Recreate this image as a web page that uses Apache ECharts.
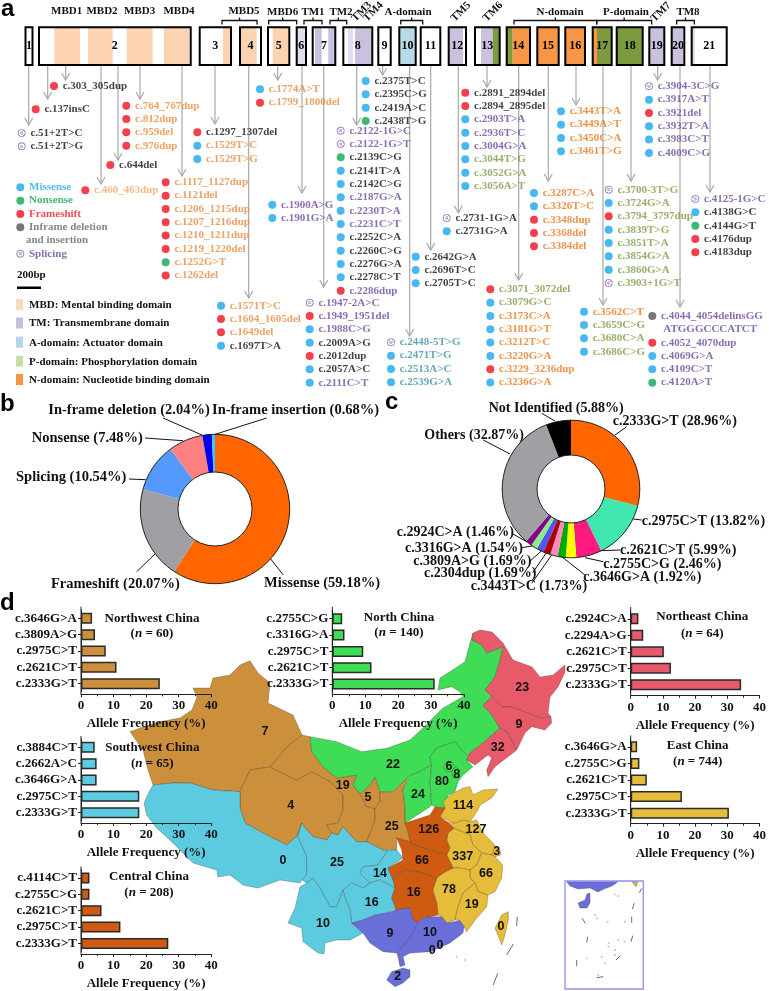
<!DOCTYPE html>
<html><head><meta charset="utf-8">
<style>html,body{margin:0;padding:0;background:#fff}#c{width:769px;height:991px}</style>
<script src="https://cdn.jsdelivr.net/npm/echarts@6/dist/echarts.min.js"></script>
</head><body><div id="c"></div>
<script>
// ---------- DATA ----------
// variant rows: [name, mutation type, text colour key]
const varsC303 = [['c.303_305dup','F','k']];
const varsC137 = [['c.137insC','F','k']];
const varsC51 = [['c.51+2T>C','S','k'],['c.51+2T>G','S','k']];
const varsC764 = [['c.764_767dup','F','m'],['c.812dup','F','m'],['c.959del','F','m'],['c.976dup','F','m']];
const varsC644 = [['c.644del','F','k']];
const varsC460 = [['c.460_463dup','F','l']];
const varsC1297 = [['c.1297_1307del','F','k'],['c.1529T>C','M','m'],['c.1529T>G','M','m']];
const varsC1117 = [['c.1117_1127dup','F','m'],['c.1121del','F','m'],['c.1206_1215dup','F','m'],['c.1207_1216dup','F','m'],['c.1210_1211dup','F','m'],['c.1219_1220del','F','m'],['c.1252G>T','N','m'],['c.1262del','F','m']];
const varsC1571 = [['c.1571T>C','M','m'],['c.1604_1605del','F','m'],['c.1649del','F','m'],['c.1697T>A','M','k']];
const varsC1774 = [['c.1774A>T','M','m'],['c.1799_1800del','F','m']];
const varsC1900 = [['c.1900A>G','M','p'],['c.1901G>A','M','p']];
const varsC1947 = [['c.1947-2A>C','S','p'],['c.1949_1951del','F','p'],['c.1988C>G','M','p'],['c.2009A>G','M','k'],['c.2012dup','F','k'],['c.2057A>C','M','k'],['c.2111C>T','M','p']];
const varsC2375 = [['c.2375T>C','M','k'],['c.2395C>G','M','k'],['c.2419A>C','M','k'],['c.2438T>G','N','k']];
const varsC2122 = [['c.2122-1G>C','S','p'],['c.2122-1G>T','S','p'],['c.2139C>G','N','k'],['c.2141T>A','M','k'],['c.2142C>G','M','k'],['c.2187G>A','M','p'],['c.2230T>A','M','p'],['c.2231C>T','M','p'],['c.2252C>A','M','k'],['c.2260C>G','M','k'],['c.2276G>A','M','k'],['c.2278C>T','M','k'],['c.2286dup','F','p']];
const varsC2448 = [['c.2448-5T>G','S','t'],['c.2471T>G','M','t'],['c.2513A>C','M','t'],['c.2539G>A','M','t']];
const varsC2642 = [['c.2642G>A','M','k'],['c.2696T>C','M','k'],['c.2705T>C','M','k']];
const varsC2731 = [['c.2731-1G>A','S','k'],['c.2731G>A','M','k']];
const varsC2891 = [['c.2891_2894del','F','k'],['c.2894_2895del','F','k'],['c.2903T>A','M','p'],['c.2936T>C','M','p'],['c.3004G>A','M','p'],['c.3044T>G','M','g'],['c.3052G>A','M','g'],['c.3056A>T','M','g']];
const varsC3071 = [['c.3071_3072del','F','g'],['c.3079G>C','M','g'],['c.3173C>A','M','o'],['c.3181G>T','M','o'],['c.3212T>C','M','o'],['c.3220G>A','M','o'],['c.3229_3236dup','F','o'],['c.3236G>A','M','o']];
const varsC3287 = [['c.3287C>A','M','o'],['c.3326T>C','M','o'],['c.3348dup','F','o'],['c.3368del','F','o'],['c.3384del','F','o']];
const varsC3443 = [['c.3443T>A','M','o'],['c.3449A>T','M','o'],['c.3450C>A','M','o'],['c.3461T>G','M','o']];
const varsC3562 = [['c.3562C>T','M','o'],['c.3659C>G','M','g'],['c.3680C>A','M','g'],['c.3686C>G','M','g']];
const varsC3700 = [['c.3700-3T>G','S','g'],['c.3724G>A','M','g'],['c.3794_3797dup','F','g'],['c.3839T>G','M','g'],['c.3851T>A','M','g'],['c.3854G>A','M','g'],['c.3860G>A','M','g'],['c.3903+1G>T','S','g']];
const varsC3904 = [['c.3904-3C>G','S','p'],['c.3917A>T','M','p'],['c.3921del','F','p'],['c.3932T>A','M','p'],['c.3983C>T','M','p'],['c.4009C>G','M','p']];
const varsC4125 = [['c.4125-1G>C','S','p'],['c.4138G>C','M','k'],['c.4144G>T','N','k'],['c.4176dup','F','k'],['c.4183dup','F','k']];
const varsC4044 = [['c.4044_4054delinsGG','D','p'],['ATGGGCCCATCT','X','p'],['c.4052_4070dup','F','p'],['c.4069G>A','M','p'],['c.4109C>T','M','p'],['c.4120A>T','N','p']];
const legendTypes = [['Missense','M','lb'],['Nonsense','N','lg'],['Frameshift','F','lr'],['Inframe deletion','D','ld']];
const legendSplicing = [['Splicing','S','p']];
const legendCont = [['and insertion','X','ld']];
const domainLegend = ['MBD: Mental binding domain','TM: Transmembrane domain','A-domain: Actuator domain','P-domain: Phosphorylation domain','N-domain: Nucleotide binding domain'];
const exonLabels = ['1','2','3','4','5','6','7','8','9','10','11','12','13','14','15','16','17','18','19','20','21'];
// panel b
const mutationTypes = ['Missense','Frameshift','Splicing','Nonsense','In-frame deletion','In-frame insertion'];
const mutationShares = [59.18,20.07,10.54,7.48,2.04,0.68];
// panel c
const variantNames = ['c.2333G>T','c.2975C>T','c.2621C>T','c.2755C>G','c.3646G>A','c.3443T>C','c.2304dup','c.3809A>G','c.3316G>A','c.2924C>A','Others','Not Identified'];
const variantShares = [28.96,13.82,5.99,2.46,1.92,1.73,1.69,1.69,1.54,1.46,32.87,5.88];
// panel d
const nwLabels = ['c.3646G>A','c.3809A>G','c.2975C>T','c.2621C>T','c.2333G>T'];
const nwValues = [3.4,4.3,7.6,10.9,24.2];
const nLabels = ['c.2755C>G','c.3316G>A','c.2975C>T','c.2621C>T','c.2333G>T'];
const nValues = [3.0,3.7,9.4,11.9,31.1];
const neLabels = ['c.2924C>A','c.2294A>G','c.2621C>T','c.2975C>T','c.2333G>T'];
const neValues = [2.4,3.9,10.3,12.5,34.3];
const swLabels = ['c.3884C>T','c.2662A>C','c.3646G>A','c.2975C>T','c.2333G>T'];
const swValues = [4.2,4.8,4.8,17.9,17.9];
const eLabels = ['c.3646G>A','c.2755C>G','c.2621C>T','c.2975C>T','c.2333G>T'];
const eValues = [2.0,2.7,5.0,15.9,30.5];
const cLabels = ['c.4114C>T','c.2755C>G','c.2621C>T','c.2975C>T','c.2333G>T'];
const cValues = [2.6,2.6,6.3,12.1,26.8];
const provinceNames = ['Xinjiang','Qinghai','Gansu','Ningxia','Shaanxi','Tibet','Sichuan','Chongqing','Guizhou','Yunnan','InnerMongolia','Shanxi','Hebei','Beijing','Tianjin','Heilongjiang','Jilin','Liaoning','Shandong','Jiangsu','Shanghai','Anhui','Zhejiang','Jiangxi','Fujian','Taiwan','Henan','Hubei','Hunan','Guangxi','Guangdong','Hainan','HongKong','Macau'];
const provinceCounts = [7,4,19,5,25,0,25,14,16,10,22,24,80,6,8,23,9,32,114,127,3,337,66,78,19,0,126,66,16,9,10,2,0,0];
const provinceGroups = ['nw','nw','nw','nw','nw','sw','sw','sw','sw','sw','n','n','n','n','n','ne','ne','ne','e','e','e','e','e','e','e','e','c','c','c','s','s','s','s','s'];

// ---------- LAYOUT AND STYLE ----------
const SERIF='"Liberation Serif"', SANS='"Liberation Sans"';
const serifBold=s=>({fontFamily:SERIF,fontWeight:'bold',fontSize:s});
const regionColor={nw:'#cc8f3c',n:'#3fdc55',ne:'#e75a6a',sw:'#5ccbdf',e:'#e6bd3a',c:'#cf5a12',s:'#6a6ed8'};
const dotColor={M:'#1aa7ec',N:'#0fa651',F:'#f01020',D:'#555555'};
const spliceFill={type:'radial',x:.5,y:.5,r:.5,colorStops:[{offset:0,color:'#bba8d8'},{offset:.42,color:'#bba8d8'},{offset:.46,color:'#fff'},{offset:.7,color:'#fff'},{offset:.74,color:'#9278c2'},{offset:1,color:'#9278c2'}]};
const textColor={k:'#111',m:'#e98a3f',l:'#f0a868',p:'#6b4a9e',t:'#3f90a6',g:'#7d9a46',o:'#e8771e',lb:'#29abe2',lg:'#0fa651',lr:'#ee1c25',ld:'#666'};
const placements=[[varsC303,54,86],[varsC137,35.7,109.3],[varsC51,21.7,133],[varsC764,126.3,105.7],[varsC644,110.3,165],[varsC460,85.3,190.3],[varsC1297,197.3,132.3],[varsC1117,165.7,182.3],[varsC1571,221,305.7],[varsC1774,260,89.3],[varsC1900,272.3,204.7],[varsC1947,309.7,302.7],[varsC2375,365.7,81],[varsC2122,340.7,130.7],[varsC2448,391,342.3],[varsC2642,415.7,256.7],[varsC2731,446.7,218],[varsC2891,465.3,92.7],[varsC3071,490.3,289.3],[varsC3287,534,193],[varsC3443,561,111.3],[varsC3562,584,311.7],[varsC3700,608.7,189.7],[varsC3904,649,86.3],[varsC4125,695.3,199],[varsC4044,652.3,316],[legendTypes,20.3,187.3],[legendCont,15,240.3],[legendSplicing,20.3,253.7]];
const arrows=[[28.7,125],[47.7,99],[65.7,80],[101,184],[118,160],[140,99],[182,176],[215,124],[248.7,298],[277.7,80],[302,193],[323.7,287],[356.7,125],[382.7,75],[409.7,336],[430.7,250],[458.3,212.7],[487,87],[518.7,280],[548.3,181],[576,105],[603,305],[631,181],[657.7,80],[680,307],[710,192]];
const exonBoxes=[[25.5,32.5],[39,190.7],[199.7,231],[240,261],[268,289.3],[296.7,306],[312.7,335.3],[343.3,372.3],[378.3,390.7],[399.3,415.7],[420.7,440.3],[448.7,466],[475,499.7],[506.7,530],[537.3,558.7],[565.3,585],[592.7,611.7],[616.7,642.7],[649.3,664.3],[671.7,684.3],[691.7,726.7]];
const PE='#fbd3b0',LI='#c9c1de',LL='#e2ddee',AD='#b5dbe8',GR='#7e9a3e',OR='#f79646';
const domainFills=[[54.3,80,PE],[88,112.7,PE],[126.7,152.7,PE],[164,189,PE],[223,231,PE],[240.7,256.7,PE],[272.7,288.3,PE],[297,305,LL],[315,321.7,LI],[328.3,335,LI],[348,353,LL],[355,363,LI],[363,372,LI],[399.3,415.7,AD],[448.7,463,LI],[481,492.7,LI],[492.7,499.7,GR],[506.7,512.7,GR],[512.7,530,OR],[537.3,558.7,OR],[565.3,585,OR],[592.7,597,OR],[597,611.7,GR],[616.7,642.7,GR],[649.3,664.3,LI],[671.7,683,LI],[691.7,695,LL]];
const brackets=[[222,257],[268.7,296.7],[304,322],[330,346.7],[400.7,422.7],[514,596.7],[596.7,651.7],[676.7,694.3]];
const headers=[['MBD1',66.7,11],['MBD2',102,11],['MBD3',139.7,11],['MBD4',179,11],['MBD5',244,11],['MBD6',282.7,12],['TM1',313,12],['TM2',341,12],['A-domain',408,12],['N-domain',560,12],['P-domain',626,12],['TM8',688,12]];
const slanted=[['TM3',361.7,11.7],['TM4',373.3,11.7],['TM5',461,11.7],['TM6',493,11.7],['TM7',661,12]];
const bLabelPos=[[264,583],[51,584],[16,477],[31.7,438],[48.3,410],[212,410]];
const bLeaderEnds=[[[283.3,575],[270.7,559]],[[136.7,571.7],[155,554]],[[129,479],[145.7,479.7]],[[145,438],[183,440.7]],[[163,418],[202,435]],[[266.7,418],[213,435]]];
const cLabelPos=[[612.7,421.7],[641.7,521],[620,550],[603.3,564],[583.3,577.3],[470.7,586.7],[424,573.3],[413.3,561],[405,548.3],[396.7,532.7],[424.3,435],[488.7,408.3]];
const cLeaderEnds=[[[626.7,426.7],[615,435]],[[641.7,520],[633.3,519]],[[620,550],[600,550.7]],[[603.3,561.7],[585,557.7]],[[585,575],[561.7,556.7]],[[531.7,583.3],[551.7,555]],[[532.7,572.7],[546,553.3]],[[529.3,561.7],[541.7,550.7]],[[521.7,547.7],[534,545.7]],[[511.7,533.3],[526.7,541.7]],[[483.3,440],[510,454]],[[541.7,413.3],[555,421]]];
const bColors=['#ff6600','#a0a0a4','#5599ff','#ff8080','#0000ee','#33ccff'];
const cColors=['#ff6600','#40e8b0','#ff1a80','#ffff00','#00aa00','#ff88bb','#aa0000','#5555ee','#88ee88','#880088','#a0a0a4','#000000'];
const barPanels=[
 {lab:nwLabels,val:nwValues,col:'nw',left:81,right:211.3,top:610.1,band:16.35,axisY:694.3,yTop:606.7,title:'Northwest China',nText:'60',tx:152,ty:618.3,ny:633.7},
 {lab:nLabels,val:nValues,col:'n',left:332.3,right:464,top:610.5,band:16.35,axisY:694.3,yTop:606.7,title:'North China',nText:'140',tx:399,ty:617.3,ny:633},
 {lab:neLabels,val:neValues,col:'ne',left:630.7,right:763,top:610.5,band:16.5,axisY:695.7,yTop:607,title:'Northeast China',nText:'64',tx:702.3,ty:616.7,ny:633.3},
 {lab:swLabels,val:swValues,col:'sw',left:81,right:211.3,top:739.1,band:16.35,axisY:823,yTop:736,title:'Southwest China',nText:'65',tx:152.3,ty:747.7,ny:763.3},
 {lab:eLabels,val:eValues,col:'e',left:630.7,right:763,top:738.5,band:16.6,axisY:823.7,yTop:735.5,title:'East China',nText:'744',tx:697.7,ty:745.3,ny:761.7},
 {lab:cLabels,val:cValues,col:'c',left:81,right:211.3,top:869.8,band:16.35,axisY:954,yTop:866.5,title:'Central China',nText:'208',tx:149,ty:877,ny:893}];
const outlines={
Xinjiang:[[130,731.7],[143,727],[160,721.7],[180,718],[192,710],[197,697],[193,688],[210,688],[213,678],[230,675],[240,665],[250,660.7],[258,673],[270,683],[268,703],[293,715],[302,735],[287,747],[270,767],[250,770],[240,791.7],[213,790],[190,783],[173,783],[153,785],[148,770],[143,750]],
Qinghai:[[250,770],[270,767],[296.7,780],[311.7,771.7],[330,781.7],[343,795],[343,810],[338,823],[326.7,825],[333,833],[326.7,840],[313,836.7],[306.7,830],[301.7,823],[296.7,836.7],[286.7,845],[263,833],[245,823],[240,808],[240,791.7]],
Gansu:[[302,735],[310,736.7],[311.7,751.7],[323,766.7],[336.7,778],[356.7,775],[353,785],[360,794],[366.7,806.7],[375,808.3],[375,820],[370,833],[366.7,841.7],[356.7,841.7],[351.7,836.7],[343,826.7],[338,835],[331.7,833],[326.7,825],[338,823],[343,810],[343,795],[330,781.7],[311.7,771.7],[296.7,780],[270,767],[287,747]],
Ningxia:[[375,776.7],[370,785],[360,794],[366.7,806.7],[375,808.3],[380,801.7],[380,791.7]],
Shaanxi:[[409,775],[403,790],[405,808],[405,823],[408,831.7],[410,841.7],[396.7,838],[396.7,850],[388,849.3],[383,850],[366.7,841.7],[370,833],[375,820],[375,808.3],[380,801.7],[380,791.7],[393,791.7],[400,785]],
Tibet:[[153,785],[173,783],[190,783],[213,790],[240,791.7],[240,808],[245,823],[263,833],[286.7,845],[296.7,836.7],[301.7,823],[298,836.7],[306.7,856.7],[306.7,875],[301.7,880],[300,883],[280,880],[258,888],[243,885],[230,875],[218,877],[216.7,870],[193,863],[173,843],[156.7,828],[146.7,815],[144,803],[150,790]],
Sichuan:[[301.7,823],[306.7,830],[313,836.7],[326.7,840],[331.7,833],[338,835],[343,826.7],[351.7,836.7],[356.7,841.7],[366.7,841.7],[383,850],[388.3,850],[378,865],[363,866.7],[360,873],[370,883],[363,888],[351.7,883],[343,890],[336.7,906.7],[330,906.7],[320,888],[313,878],[306.7,883],[301.7,880],[306.7,875],[306.7,856.7],[298,836.7]],
Chongqing:[[388,850],[396.7,850],[403,858],[388,868],[393,880],[395,888],[380,880],[370,883],[360,873],[363,867],[378,865]],
Guizhou:[[351.7,883],[363,888],[370,883],[380,880],[395,888],[391.7,898],[395.7,908],[386.7,913],[375,915],[363,920],[351.7,923],[350,910],[345,898],[343,890]],
Yunnan:[[306.7,883],[313,878],[320,888],[330,906.7],[336.7,906.7],[343,890],[345,898],[350,910],[351.7,923],[363,933],[350,940],[336.7,940],[325,943],[324,954],[318,953],[303,941.7],[301.7,928],[288,923],[295,908],[300,886.7]],
InnerMongolia:[[310,736.7],[336.7,741.7],[361.7,751.7],[386.7,748.3],[410,740],[423,728],[443,708],[463,696.7],[460,691.7],[451.7,686.7],[438,690],[440,678],[450,671.7],[465,661.7],[470,643],[473,633],[472,640],[482,645],[486.7,653],[503,646.7],[500,660],[495,676.7],[485,690],[491.7,696.7],[483,705],[491.7,715],[500,728],[483,743],[470,753],[468.3,756.7],[463,751.7],[455,741.7],[436.7,748],[430,756.7],[431.7,765],[416.7,773],[410,775],[400,785],[393,791.7],[380,791.7],[375,776.7],[370,785],[360,794],[353,785],[356.7,775],[336.7,778],[323,766.7],[311.7,751.7]],
Shanxi:[[416.7,773],[431.7,765],[430,781.7],[431.7,805],[430,806.7],[405,823],[405,808],[403,790],[410,775]],
Hebei:[[431.7,765],[430,756.7],[436.7,748],[455,741.7],[463,751.7],[468.3,756.7],[466.7,760],[473,766.7],[463,775],[458,781.7],[455,791.7],[448,795],[445,805],[445,808],[435,807],[431.7,805],[430,781.7]],
Beijing:[[443,766.7],[446.7,761.7],[451.7,761.7],[455,766.7],[451.7,771.7],[446.7,771.7]],
Tianjin:[[451.7,771.7],[455,766.7],[460,770],[458,778],[453,778]],
Heilongjiang:[[473,633],[480,630],[492,632],[503,643],[513,660],[532,667],[540,677],[553,675],[565,665],[565,672],[558,687],[550,697],[548,713],[551,717],[540,718],[528,713],[512,707],[502,707],[491.7,696.7],[485,690],[495,676.7],[500,660],[503,646.7],[486.7,653],[482,645],[472,640]],
Jilin:[[491.7,696.7],[502,707],[512,707],[528,713],[540,718],[551,717],[551.7,723],[545,730],[531.7,726.7],[525,733],[516.7,750],[506.7,731.7],[500,728],[491.7,715],[483,705]],
Liaoning:[[500,728],[506.7,731.7],[516.7,750],[495,766.7],[488,776.7],[486.7,770],[491.7,758],[488,755],[475,765],[466.7,760],[470,753],[483,743]],
Shandong:[[443,801.7],[450,795],[463,788],[470,786.7],[473,795],[483,790],[498,789],[491.7,798],[480,805],[478,810],[470,821.7],[463,820],[455,823.3],[446.7,820],[440,816.7],[445,808]],
Jiangsu:[[463,820],[470,821.7],[476.7,820],[483,833],[493,843],[500,853],[491.7,855],[481.7,853],[473,845],[470,835],[458,830],[454,828],[446.7,821.7],[455,823.3]],
Shanghai:[[495,846.7],[500,850],[500.7,855],[495,856.7],[491.7,855]],
Anhui:[[454,828],[458,830],[470,835],[473,845],[481.7,853],[476.7,865],[470,870],[460,868],[453,868],[446.7,855],[450,848],[446.7,840],[448,833]],
Zhejiang:[[481.7,853],[491.7,855],[495,856.7],[502.7,865],[501.7,878],[495,891.7],[488,895],[478.3,891.7],[475,883],[470,878],[470,870],[476.7,865]],
Jiangxi:[[453,868],[460,868],[470,870],[470,878],[475,883],[463,893],[458,906.7],[455,920],[446.7,923],[441.7,916.7],[438,915],[436.7,903],[432.7,890],[436.7,878],[443,873]],
Fujian:[[475,883],[478.3,891.7],[488,895],[486.7,906.7],[476.7,918],[466.7,931.7],[464,926.7],[460,920.7],[455,920],[458,906.7],[463,893]],
Taiwan:[[508.3,911.7],[501.7,915],[495,928.3],[500,940],[501.7,945],[505,935],[508.3,920]],
Henan:[[405,823],[430,815],[435,807],[445,808],[440,816.7],[446.7,821.7],[454,828],[448,833],[446.7,840],[450,848],[446.7,855],[418,846.7],[410,841.7],[408,831.7]],
Hubei:[[388,868],[403,860],[401.7,850],[396.7,838],[410,841.7],[418,846.7],[446.7,855],[453,868],[443,873],[436.7,878],[423,873],[405,870],[393,880]],
Hunan:[[395.7,908],[391.7,898],[395,888],[393,880],[405,870],[423,873],[436.7,878],[432.7,890],[436.7,903],[438,915],[430,916.7],[423,918],[418,922.7],[413,920],[410,908],[395,910]],
Guangxi:[[351.7,923],[363,920],[375,915],[386.7,913],[395,910],[410,908],[413,920],[418,922.7],[413,933],[403,946.7],[396.7,953],[383,951.7],[370,943],[363,933]],
Guangdong:[[418,922.7],[423,918],[430,916.7],[441.7,916.7],[446.7,923],[460,920.7],[464,926.7],[463,933],[450,943],[430,951.7],[410,953],[403,956.7],[405,965],[400,966.7],[398,956.7],[396.7,953],[403,946.7],[413,933]],
Hainan:[[410,970],[403,968],[391.7,971.7],[386.7,980],[395,986.7],[403,983],[410,976.7]],
HongKong:[[440,944],[442,945],[441,947]],
Macau:[[432,949],[434,950],[433,952]],
InsetMainland:[[566.7,881.7],[618,881.7],[612,886],[604,889],[598,892],[590,888],[578,889],[570,886]],
InsetHainan:[[585,900],[578,903],[580,908],[587,908],[590,903],[590,893],[587,894]],
InsetTaiwan:[[632,881.7],[638,881.7],[636,887]]};
const labelAnchors={Xinjiang:[265,731.7],Qinghai:[290.7,806],Gansu:[342.7,786],Ningxia:[368,798],Shaanxi:[391.7,827],Tibet:[283,860.7],Sichuan:[337,862.7],Chongqing:[380,874],Guizhou:[371.7,902.7],Yunnan:[323,923.3],InnerMongolia:[393,765],Shanxi:[418,795],Hebei:[442,781.7],Beijing:[449,767],Tianjin:[456.7,775],Heilongjiang:[522.3,687.3],Jilin:[519,724.3],Liaoning:[497.7,747.3],Shandong:[463,806],Jiangsu:[476,830],Shanghai:[496.7,852],Anhui:[462.7,857],Zhejiang:[486,874],Jiangxi:[449,890],Fujian:[471.7,905],Taiwan:[501,926.7],Henan:[428.7,830],Hubei:[422,860.7],Hunan:[413.7,892.7],Guangxi:[390,933.7],Guangdong:[430,932.7],Hainan:[397.7,976.7],HongKong:[440,946],Macau:[432.3,951]};
const dashes=[[517.3,916.7,516.7,926],[513.3,944,506.7,955],[497.7,973.3,493.3,985],[641.7,888.3,639.3,892.7],[634.3,903.3,632.3,909],[582.3,918.3,585.3,923.3],[631.7,916.7,631.7,922.7],[587.7,936.7,586.7,942.7],[632.7,935.7,631,941.7],[620.3,955.7,616,960],[576.7,960,576.7,966],[603.3,976.7,596.7,977.7]];
const islets=[[456.7,956.7],[465,960],[615,894.3],[618.3,896],[595,915],[596.7,918.3],[607.7,921.7],[625,921.7],[609,943.3],[618.3,940],[624.3,941.7],[615,950],[601.7,956.7],[586.7,958.3],[598.3,975],[608.3,946.7],[605,963.3],[615,955]];

// ---------- BUILD ----------
const LINE=13.33;
const dots=[];
placements.forEach(([rows,x,y])=>rows.forEach((r,i)=>{
  const t=r[1], isX=t==='X';
  dots.push({name:r[0],value:[isX?x+6.3:x,y+i*LINE],symbolSize:isX?0:8,
    itemStyle:{color:t==='S'?spliceFill:(dotColor[t]||'transparent')},
    label:{color:textColor[r[2]]}});
}));
const hid={xAxisIndex:0,yAxisIndex:0,silent:true,clip:false};
function segSeries(name,segs,color,width,z){
  return Object.assign({type:'custom',name,z,data:segs,renderItem:(p,api)=>{
    const a=api.coord([api.value(0),api.value(1)]),b=api.coord([api.value(2),api.value(3)]);
    return {type:'line',shape:{x1:a[0],y1:a[1],x2:b[0],y2:b[1]},style:{stroke:color,lineWidth:width}};
  }},hid);
}
const series=[];
// map
const features=provinceNames.concat(['InsetMainland','InsetHainan','InsetTaiwan']).map(n=>({type:'Feature',properties:{name:n,cp:labelAnchors[n]},geometry:{type:'Polygon',coordinates:[outlines[n].concat([outlines[n][0]])]}}));
echarts.registerMap('cn',{type:'FeatureCollection',features});
const mapData=provinceNames.map((n,i)=>({name:n,value:provinceCounts[i],itemStyle:{areaColor:regionColor[provinceGroups[i]]}}));
mapData.push({name:'InsetMainland',itemStyle:{areaColor:regionColor.s},label:{show:false}},{name:'InsetHainan',itemStyle:{areaColor:regionColor.s},label:{show:false}},{name:'InsetTaiwan',itemStyle:{areaColor:'#b8c24a'},label:{show:false}});
series.push({type:'map',map:'cn',z:0,silent:true,aspectScale:1,roam:false,left:0,top:0,width:769,height:991,
  boundingCoords:[[0,0],[769,991]],projection:{project:p=>p,unproject:p=>p},
  itemStyle:{borderColor:'rgba(50,40,30,.55)',borderWidth:.5},
  label:{show:true,formatter:p=>p.value,fontFamily:SANS,fontWeight:'bold',fontSize:12.5,color:'#111'},data:mapData});
series.push(segSeries('dashes',dashes,'#444',.8,1));
series.push(Object.assign({type:'scatter',name:'islets',z:1,symbolSize:1.8,itemStyle:{color:'#d48ad8'},data:islets},hid));
// panel a
series.push(Object.assign({type:'custom',name:'arrows',z:2,data:arrows,renderItem:(p,api)=>{
  const x=api.value(0),e=api.value(1),a=api.coord([x,65]),b=api.coord([x,e]);
  const st={stroke:'#a8a8a8',lineWidth:1.2,fill:'none'};
  return {type:'group',children:[{type:'line',shape:{x1:a[0],y1:a[1],x2:b[0],y2:b[1]},style:st},
    {type:'polyline',shape:{points:[[b[0]-4,b[1]-7],[b[0],b[1]],[b[0]+4,b[1]-7]]},style:st}]};
}},hid));
series.push(Object.assign({type:'custom',name:'domains',z:3,data:domainFills.map(d=>[d[0],d[1]]),renderItem:(p,api)=>{
  const a=api.coord([api.value(0),27.3]),b=api.coord([api.value(1),65]);
  return {type:'rect',shape:{x:a[0],y:a[1],width:b[0]-a[0],height:b[1]-a[1]},style:{fill:domainFills[p.dataIndex][2]}};
}},hid));
series.push(Object.assign({type:'custom',name:'exons',z:4,data:exonBoxes,renderItem:(p,api)=>{
  const a=api.coord([api.value(0),27.3]),b=api.coord([api.value(1),65]);
  return {type:'group',children:[{type:'rect',shape:{x:a[0],y:a[1],width:b[0]-a[0],height:b[1]-a[1]},style:{fill:'none',stroke:'#000',lineWidth:2}},
   {type:'text',style:{x:(a[0]+b[0])/2,y:(a[1]+b[1])/2,text:exonLabels[p.dataIndex],align:'center',verticalAlign:'middle',font:'bold 12px '+SERIF,fill:'#000'}}]};
}},hid));
series.push(Object.assign({type:'custom',name:'brackets',z:4,data:brackets,renderItem:(p,api)=>{
  const a=api.coord([api.value(0),24.5]),b=api.coord([api.value(1),20.5]),m=(a[0]+b[0])/2;
  const st={stroke:'#111',lineWidth:1.3,fill:'none'};
  return {type:'group',children:[{type:'polyline',shape:{points:[[a[0],a[1]],[a[0],b[1]],[b[0],b[1]],[b[0],a[1]]]},style:st},
   {type:'line',shape:{x1:m,y1:b[1],x2:m,y2:b[1]-3},style:st}]};
}},hid));
series.push(Object.assign({type:'scatter',name:'variants',z:5,symbol:'circle',data:dots,
  label:Object.assign({show:true,position:'right',distance:4.7,formatter:'{b}'},serifBold(11))},hid));
// panel b, c
function pie(name,labels,vals,cols,center,radius,pos,ends,fs){
  return {type:'pie',name,center,radius,startAngle:90,z:3,silent:true,avoidLabelOverlap:false,minAngle:0,
    data:labels.map((n,i)=>({name:n,value:vals[i],itemStyle:{color:cols[i]}})),
    label:Object.assign({show:true,formatter:'{b} ({c}%)',color:'#111',position:'outside'},serifBold(fs)),
    labelLine:{show:true,length:6,length2:6,lineStyle:{color:'#111',width:1}},
    labelLayout:params=>({x:pos[params.dataIndex][0],y:pos[params.dataIndex][1],align:'left',verticalAlign:'middle',labelLinePoints:[ends[params.dataIndex][1],ends[params.dataIndex][1],ends[params.dataIndex][0]]})};
}
series.push(pie('b',mutationTypes,mutationShares,bColors,[215,509],[37,74.7],bLabelPos,bLeaderEnds,14.5));
series.push(pie('c',variantNames,variantShares,cColors,[571,489],[34,68.8],cLabelPos,cLeaderEnds,14));
// panel d
const grids=[{left:0,top:0,width:769,height:991,show:false}];
const xAxes=[{type:'value',min:0,max:769,show:false,gridIndex:0}];
const yAxes=[{type:'value',min:0,max:991,inverse:true,show:false,gridIndex:0}];
const yExt=[];
barPanels.forEach((b,k)=>{
  const i=k+1,h=b.band*5;
  grids.push({left:b.left,top:b.top,width:b.right-b.left,height:h});
  xAxes.push({gridIndex:i,type:'value',min:0,max:40,interval:10,offset:b.axisY-(b.top+h),
    axisLine:{show:true,onZero:false,lineStyle:{color:'#222',width:1}},
    axisTick:{show:true,length:3,lineStyle:{color:'#222'}},
    minorTick:{show:true,splitNumber:2,length:2,lineStyle:{color:'#222'}},
    splitLine:{show:false},
    axisLabel:Object.assign({color:'#111',margin:5,showMinLabel:true,showMaxLabel:true},serifBold(13)),
    name:'Allele Frequency (%)',nameLocation:'middle',nameGap:23,nameMoveOverlap:false,
    nameTextStyle:Object.assign({color:'#111'},serifBold(13))});
  yAxes.push({gridIndex:i,type:'category',data:b.lab,inverse:true,
    axisLine:{show:true,lineStyle:{color:'#222',width:1}},
    axisTick:{show:true,length:3,alignWithLabel:true,lineStyle:{color:'#222'}},
    axisLabel:Object.assign({color:'#111',margin:4,interval:0},serifBold(13))});
  series.push({type:'bar',name:b.title,xAxisIndex:i,yAxisIndex:i,z:3,silent:true,barWidth:11,data:b.val,
    itemStyle:{color:regionColor[b.col],borderColor:'#2a2a2a',borderWidth:1.5}});
  yExt.push([b.left,b.yTop,b.left,b.axisY]);
});
series.push(segSeries('axisExt',yExt,'#222',1,3));
// text & decoration
function T(text,x,y,o){o=o||{};return {type:'text',x,y,rotation:o.rot||0,z:50,style:{text,align:o.align||'center',verticalAlign:'middle',font:o.font||('bold 11px '+SERIF),fill:o.fill||'#111',rich:o.rich}};}
const g=[];
headers.forEach(h=>g.push(T(h[0],h[1],h[2])));
slanted.forEach(h=>g.push(T(h[0],h[1],h[2],{rot:Math.PI/4})));
[['a',1,9],['b',0,404],['c',385,402],['d',0,603]].forEach(p=>g.push(T(p[0],p[1],p[2],{align:'left',font:'bold 24px '+SANS,fill:'#000'})));
g.push(T('200bp',17,274.7,{align:'left'}));
g.push({type:'rect',z:50,shape:{x:17,y:286.5,width:24,height:2.5},style:{fill:'#000'}});
const legendSw=['#fbd9bc','#c8c0dc','#b5d8e8','#c4e0a8','#f79646'],legendY=[305,323.5,342.7,361.7,380];
domainLegend.forEach((d,i)=>{
  g.push({type:'rect',z:50,shape:{x:16,y:legendY[i]-6,width:7,height:11},style:{fill:legendSw[i]}});
  g.push(T(d,29,legendY[i],{align:'left'}));
});
[[215,509,74.7],[215,509,37],[571,489,68.8],[571,489,34]].forEach(c=>g.push({type:'circle',z:40,shape:{cx:c[0],cy:c[1],r:c[2]},style:{fill:'none',stroke:'#111',lineWidth:.9}}));
barPanels.forEach(b=>{
  const f='bold 13px '+SERIF;
  g.push(T(b.title,b.tx,b.ty,{font:f}));
  g.push(T('({i|n} = '+b.nText+')',b.tx,b.ny,{font:f,rich:{i:{font:'italic bold 13px '+SERIF,fill:'#111'}}}));
});
g.push({type:'rect',z:1,shape:{x:565,y:881,width:78.3,height:108},style:{fill:'none',stroke:'#9090ee',lineWidth:1.3}});
const chart=echarts.init(document.getElementById('c'),null,{renderer:'canvas'});
chart.setOption({animation:false,backgroundColor:'#fff',grid:grids,xAxis:xAxes,yAxis:yAxes,series,graphic:{elements:g}});
</script></body></html>
